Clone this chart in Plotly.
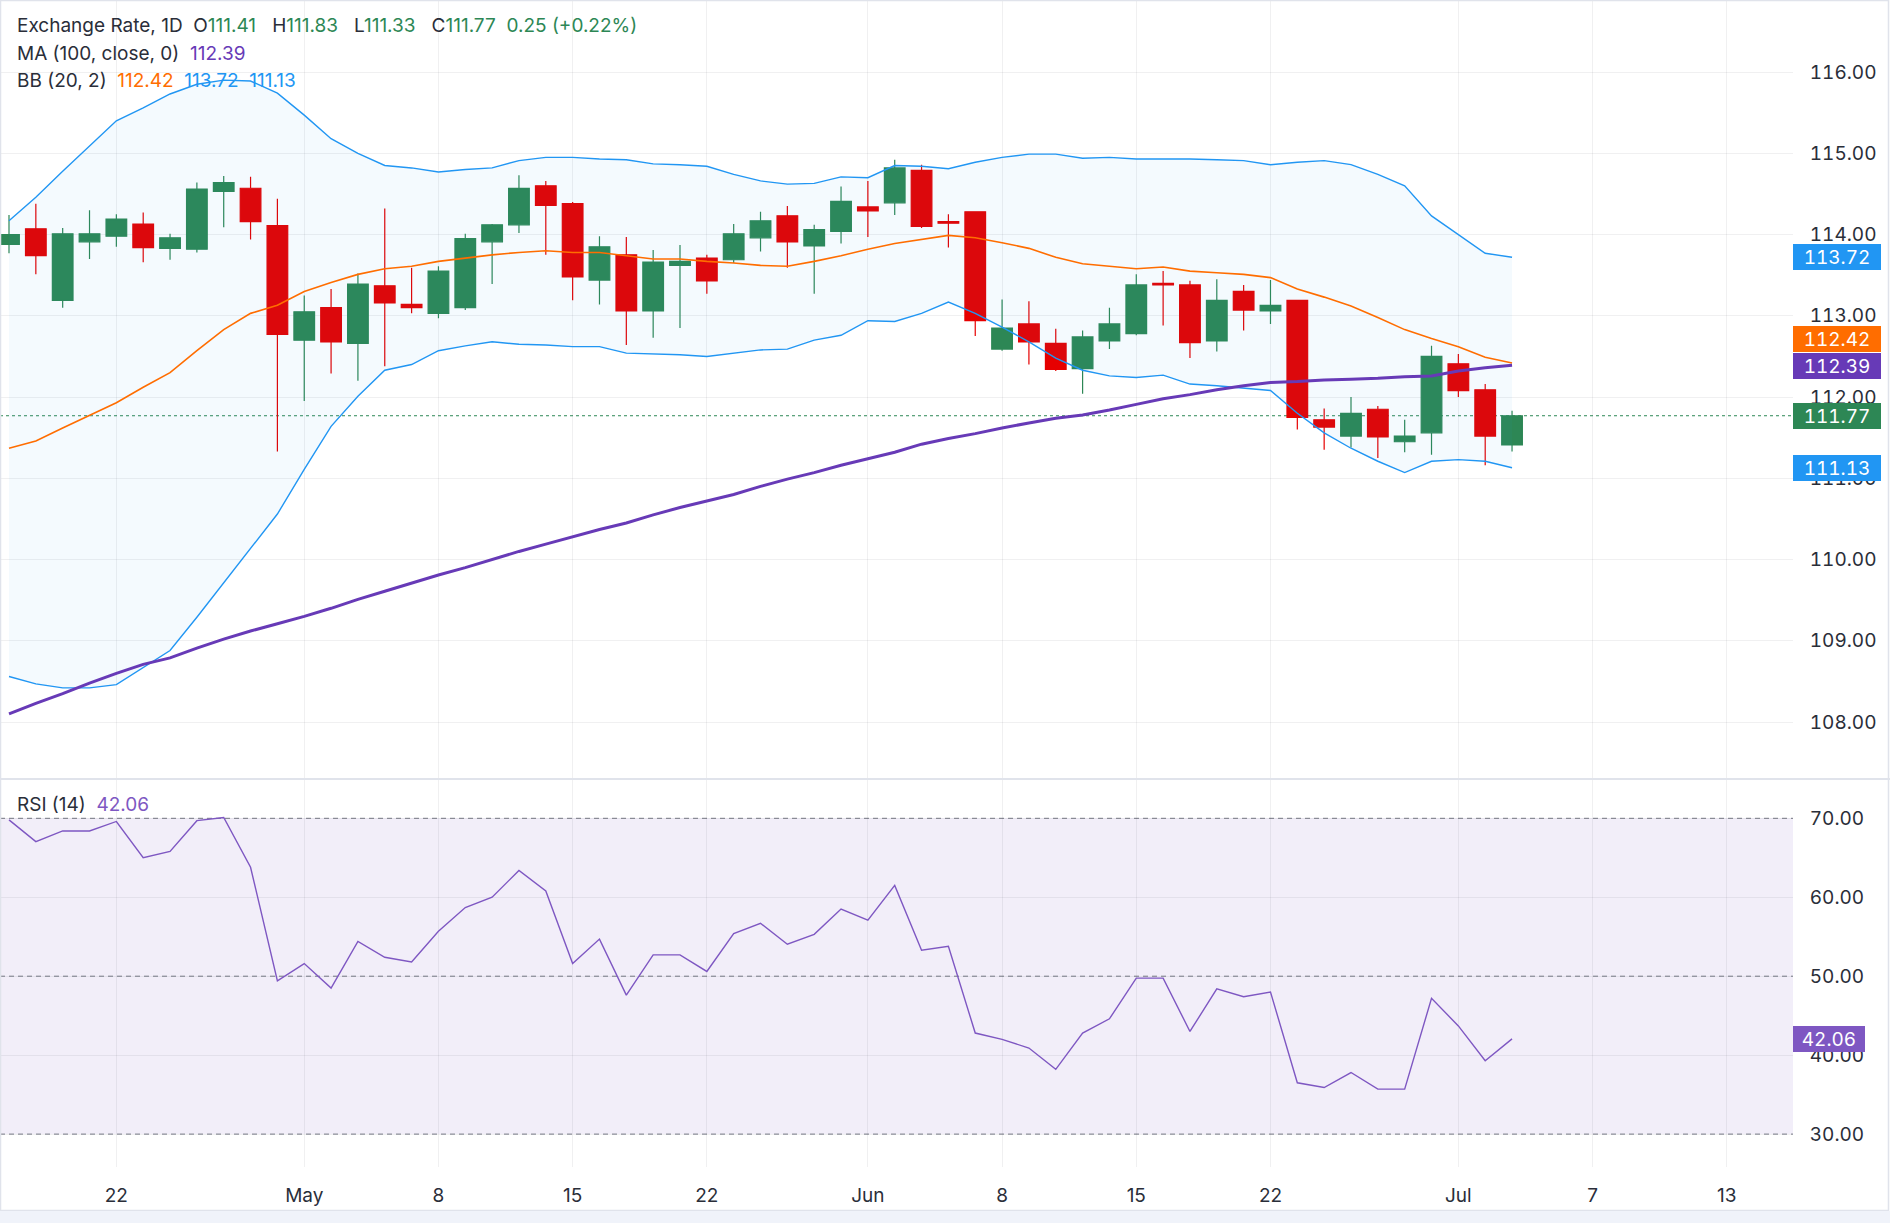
import plotly.graph_objects as go

W, H = 1890, 1223

# ---------------- data ----------------
bar_open = [113.88, 114.07, 113.19, 113.91, 113.98, 114.13, 113.83, 113.82, 114.53, 114.57,
            114.11, 112.70, 113.10, 112.66, 113.37, 113.14, 113.03, 113.10, 113.91, 114.12,
            114.60, 114.38, 113.44, 113.75, 113.06, 113.62, 113.71, 113.69, 113.96, 114.23,
            113.86, 114.04, 114.34, 114.39, 114.79, 114.16, 114.28, 112.59, 112.90, 112.66,
            112.35, 112.69, 112.78, 113.40, 113.38, 112.69, 113.30, 113.06, 113.19, 111.72,
            111.52, 111.85, 111.45, 111.56, 112.41, 112.09, 111.41]
bar_high = [114.24, 114.38, 114.08, 114.30, 114.25, 114.27, 114.01, 114.64, 114.72, 114.71,
            114.44, 113.25, 113.33, 113.52, 114.32, 113.59, 113.61, 114.01, 114.13, 114.73,
            114.66, 114.40, 113.98, 113.97, 113.81, 113.87, 113.75, 114.13, 114.28, 114.35,
            114.12, 114.59, 114.66, 114.92, 114.86, 114.25, 114.28, 113.20, 113.18, 112.84,
            112.82, 113.10, 113.51, 113.55, 113.43, 113.45, 113.38, 113.44, 113.19, 111.86,
            112.00, 111.89, 111.72, 112.63, 112.53, 112.16, 111.83]
bar_low = [113.77, 113.51, 113.10, 113.70, 113.85, 113.66, 113.69, 113.78, 114.09, 113.94,
           111.33, 111.95, 112.29, 112.20, 112.38, 113.03, 112.97, 113.07, 113.39, 114.02,
           113.75, 113.19, 113.14, 112.64, 112.73, 112.85, 113.27, 113.65, 113.79, 113.59,
           113.27, 113.89, 113.97, 114.24, 114.08, 113.84, 112.75, 112.57, 112.40, 112.32,
           112.04, 112.59, 112.76, 112.88, 112.48, 112.56, 112.82, 112.90, 111.60, 111.35,
           111.38, 111.25, 111.32, 111.29, 112.00, 111.16, 111.33]
bar_close = [114.00, 113.74, 114.01, 114.01, 114.19, 113.84, 113.96, 114.56, 114.64, 114.16,
             112.77, 113.05, 112.68, 113.39, 113.16, 113.10, 113.55, 113.95, 114.12, 114.57,
             114.36, 113.48, 113.85, 113.06, 113.66, 113.67, 113.43, 114.01, 114.17, 113.91,
             114.06, 114.41, 114.29, 114.82, 114.10, 114.14, 112.94, 112.85, 112.68, 112.34,
             112.74, 112.90, 113.38, 113.38, 112.67, 113.19, 113.07, 113.13, 111.75, 111.63,
             111.80, 111.51, 111.52, 112.50, 112.08, 111.52, 111.77]

bb_upper = [114.17, 114.46, 114.78, 115.09, 115.40, 115.56, 115.73, 115.85, 115.90, 115.89,
            115.74, 115.47, 115.18, 115.00, 114.85, 114.82, 114.77, 114.80, 114.82, 114.91,
            114.95, 114.95, 114.93, 114.92, 114.87, 114.86, 114.84, 114.74, 114.66, 114.62,
            114.63, 114.71, 114.70, 114.85, 114.84, 114.81, 114.89, 114.95, 114.99, 114.99,
            114.94, 114.95, 114.93, 114.93, 114.93, 114.92, 114.91, 114.86, 114.89, 114.91,
            114.86, 114.74, 114.60, 114.23, 114.00, 113.77, 113.72]
bb_basis = [111.37, 111.46, 111.62, 111.78, 111.93, 112.12, 112.30, 112.57, 112.83, 113.03,
            113.13, 113.30, 113.41, 113.51, 113.58, 113.61, 113.67, 113.71, 113.75, 113.78,
            113.80, 113.78, 113.78, 113.74, 113.70, 113.70, 113.67, 113.65, 113.62, 113.61,
            113.67, 113.74, 113.82, 113.89, 113.94, 113.99, 113.96, 113.90, 113.83, 113.72,
            113.64, 113.61, 113.58, 113.60, 113.55, 113.53, 113.51, 113.47, 113.33, 113.23,
            113.12, 112.98, 112.83, 112.72, 112.62, 112.49, 112.42]
bb_lower = [108.56, 108.47, 108.42, 108.42, 108.46, 108.67, 108.88, 109.29, 109.71, 110.14,
            110.56, 111.11, 111.64, 112.01, 112.33, 112.40, 112.57, 112.63, 112.68, 112.65,
            112.64, 112.62, 112.62, 112.54, 112.53, 112.52, 112.50, 112.54, 112.58, 112.59,
            112.70, 112.76, 112.94, 112.93, 113.03, 113.17, 113.03, 112.86, 112.68, 112.48,
            112.33, 112.26, 112.24, 112.27, 112.16, 112.14, 112.11, 112.08, 111.80, 111.56,
            111.37, 111.21, 111.07, 111.21, 111.23, 111.21, 111.13]
ma_100 = [108.10, 108.23, 108.35, 108.48, 108.60, 108.71, 108.79, 108.91, 109.02, 109.12,
          109.21, 109.30, 109.40, 109.51, 109.61, 109.71, 109.81, 109.90, 110.00, 110.10,
          110.19, 110.28, 110.37, 110.45, 110.55, 110.64, 110.72, 110.80, 110.90, 110.99,
          111.07, 111.16, 111.24, 111.32, 111.42, 111.49, 111.55, 111.62, 111.68, 111.74,
          111.78, 111.84, 111.91, 111.98, 112.03, 112.09, 112.14, 112.18, 112.19, 112.21,
          112.22, 112.23, 112.25, 112.26, 112.32, 112.36, 112.39]
rsi_14 = [69.8, 67.05, 68.4, 68.4, 69.6, 65.0, 65.8, 69.7, 70.1, 63.8,
          49.4, 51.6, 48.5, 54.4, 52.4, 51.8, 55.7, 58.7, 60.0, 63.4,
          60.8, 51.6, 54.7, 47.6, 52.7, 52.7, 50.6, 55.4, 56.7, 54.05,
          55.3, 58.5, 57.1, 61.5, 53.3, 53.8, 42.8, 42.0, 40.9, 38.2,
          42.8, 44.6, 49.75, 49.75, 43.0, 48.4, 47.4, 48.0, 36.5, 35.9,
          37.8, 35.7, 35.7, 47.2, 43.7, 39.3, 42.06]

tick_pos = [4, 11, 16, 21, 26, 32, 37, 42, 47, 54, 59, 64]
tick_text = ["22", "May", "8", "15", "22", "Jun", "8", "15", "22", "Jul", "7", "13"]
price_ticks = [108, 109, 110, 111, 112, 113, 114, 115, 116]
rsi_ticks = [30, 40, 50, 60, 70]
rsi_levels = [70, 50, 30]
label_shift = [0, 24, -1, 0, 0]   # pixel nudges of the overlapping price tags

# ---------------- styling ----------------
GREEN = "#2d8755"
RED = "#e60000"
BLUE = "#2196f3"
ORANGE = "#ff6d00"
PURPLE = "#673ab7"
RSI_C = "#7e57c2"
TEXT = "#2a2e39"
GRID = "rgba(42,46,57,0.07)"
FONT = "Inter, Roboto, sans-serif"
FS = 19

x = list(range(len(bar_close)))

plot_right = 1793
bar0_px, bar_px = 9.0, 26.84
x_range = [(0 - bar0_px) / bar_px, (plot_right - bar0_px) / bar_px]

# price panel pixels
p_top_px, p_bot_px = 0, 778
px_per_price = 81.25
y115_px = 153.3
p_range = [115 - (p_bot_px - y115_px) / px_per_price, 115 + (y115_px - p_top_px) / px_per_price]
# rsi panel pixels
r_top_px, r_bot_px = 780, 1167
px_per_rsi = 7.895
y70_px = 818.3
r_range = [70 - (r_bot_px - y70_px) / px_per_rsi, 70 + (y70_px - r_top_px) / px_per_rsi]

fig = go.Figure()

fig.add_trace(go.Scatter(x=x, y=bb_upper, mode="lines", line=dict(color=BLUE, width=1.4),
                         hoverinfo="skip", xaxis="x", yaxis="y"))
fig.add_trace(go.Scatter(x=x, y=bb_lower, mode="lines", line=dict(color=BLUE, width=1.4),
                         fill="tonexty", fillcolor="rgba(33,150,243,0.05)",
                         hoverinfo="skip", xaxis="x", yaxis="y"))
fig.add_trace(go.Scatter(x=x, y=bb_basis, mode="lines", line=dict(color=ORANGE, width=1.6),
                         hoverinfo="skip", xaxis="x", yaxis="y"))
fig.add_trace(go.Scatter(x=x, y=ma_100, mode="lines", line=dict(color=PURPLE, width=3),
                         hoverinfo="skip", xaxis="x", yaxis="y"))
fig.add_trace(go.Candlestick(
    x=x, open=bar_open, high=bar_high, low=bar_low, close=bar_close,
    increasing=dict(line=dict(color=GREEN, width=1.2), fillcolor=GREEN),
    decreasing=dict(line=dict(color=RED, width=1.2), fillcolor=RED),
    whiskerwidth=0, xaxis="x", yaxis="y", hoverinfo="skip"))
fig.add_trace(go.Scatter(x=x, y=rsi_14, mode="lines", line=dict(color=RSI_C, width=1.4),
                         hoverinfo="skip", xaxis="x2", yaxis="y2"))

common_x = dict(domain=[0, plot_right / W], range=x_range, tickmode="array", tickvals=tick_pos,
                showgrid=True, gridcolor=GRID, gridwidth=1, zeroline=False, showline=False,
                fixedrange=True)
fig.update_layout(
    width=W, height=H, margin=dict(l=0, r=0, t=0, b=0),
    paper_bgcolor="white", plot_bgcolor="white", showlegend=False, hovermode=False,
    boxgap=0.23, boxgroupgap=0,
    font=dict(family=FONT, size=FS, color=TEXT),
    xaxis=dict(**common_x, anchor="y", showticklabels=False, rangeslider=dict(visible=False)),
    xaxis2=dict(**common_x, anchor="y2", ticktext=tick_text, showticklabels=True,
                ticks="outside", ticklen=11, tickcolor="rgba(0,0,0,0)",
                tickfont=dict(family=FONT, size=FS, color=TEXT)),
    yaxis=dict(domain=[1 - p_bot_px / H, 1 - p_top_px / H], range=p_range, side="right",
               anchor="x", tickmode="array", tickvals=price_ticks, tickformat=".2f",
               ticks="outside", ticklen=12, tickcolor="rgba(0,0,0,0)",
               showgrid=True, gridcolor=GRID, zeroline=False, showline=False, fixedrange=True,
               tickfont=dict(family=FONT, size=FS, color=TEXT)),
    yaxis2=dict(domain=[1 - r_bot_px / H, 1 - r_top_px / H], range=r_range, side="right",
                anchor="x2", tickmode="array", tickvals=rsi_ticks, tickformat=".2f",
                ticks="outside", ticklen=12, tickcolor="rgba(0,0,0,0)",
                showgrid=True, gridcolor=GRID, zeroline=False, showline=False, fixedrange=True,
                tickfont=dict(family=FONT, size=FS, color=TEXT)),
)

shapes = []
# RSI background band
shapes.append(dict(type="rect", xref="x2 domain", yref="y2", x0=0, x1=1, y0=min(rsi_levels),
                   y1=max(rsi_levels), fillcolor="rgba(126,87,194,0.1)", line=dict(width=0),
                   layer="below"))
for lv in rsi_levels:
    shapes.append(dict(type="line", xref="x2 domain", yref="y2", x0=0, x1=1, y0=lv, y1=lv,
                       line=dict(color="#787b86", width=1, dash="5px,4px"), layer="below"))
# last price line
shapes.append(dict(type="line", xref="x domain", yref="y", x0=0, x1=1,
                   y0=bar_close[-1], y1=bar_close[-1],
                   line=dict(color=GREEN, width=1, dash="dot"), layer="below"))
# pane divider
shapes.append(dict(type="line", xref="paper", yref="paper", x0=0, x1=1,
                   y0=1 - 779 / H, y1=1 - 779 / H, line=dict(color="#e0e3eb", width=2)))
# outer frame + bottom strip
shapes.append(dict(type="rect", xref="paper", yref="paper", x0=0.5 / W, x1=1 - 1.5 / W,
                   y0=1 - 1210.5 / H, y1=1 - 0.5 / H, line=dict(color="#e0e3eb", width=1.5),
                   fillcolor="rgba(0,0,0,0)"))
shapes.append(dict(type="rect", xref="paper", yref="paper", x0=0, x1=1, y0=0,
                   y1=1 - 1211 / H, line=dict(width=0), fillcolor="#f0f3fa"))
fig.update_layout(shapes=shapes)

ann = []
def hdr(text, ypx):
    ann.append(dict(xref="paper", yref="paper", x=14.5 / W, y=1 - ypx / H, xanchor="left",
                    yanchor="middle", align="left", text=text, showarrow=False,
                    font=dict(family=FONT, size=FS, color=TEXT)))

def col(v, c):
    return f'<span style="color:{c}">{v}</span>'

chg = bar_close[-1] - bar_close[-2]
pct = chg / bar_close[-2] * 100
sp = "\u00a0\u00a0"
sp3 = "\u00a0\u00a0\u00a0"
line1 = ("Exchange Rate, 1D" + sp + "O" + col(f"{bar_open[-1]:.2f}", GREEN) + sp3 + "H" +
         col(f"{bar_high[-1]:.2f}", GREEN) + sp3 + "L" + col(f"{bar_low[-1]:.2f}", GREEN) + sp3 +
         "C" + col(f"{bar_close[-1]:.2f}", GREEN) + sp +
         col(f"{chg:.2f} ({pct:+.2f}%)", GREEN))
hdr(line1, 25)
hdr("MA (100, close, 0)" + sp + col(f"{ma_100[-1]:.2f}", PURPLE), 53)
hdr("BB (20, 2)" + sp + col(f"{bb_basis[-1]:.2f}", ORANGE) + sp +
    col(f"{bb_upper[-1]:.2f}", BLUE) + sp + col(f"{bb_lower[-1]:.2f}", BLUE), 80)
hdr("RSI (14)" + sp + col(f"{rsi_14[-1]:.2f}", RSI_C), 804)
n_header = len(ann)

# price tags on the right scale
tag_vals = [bb_upper[-1], bb_basis[-1], ma_100[-1], bar_close[-1], bb_lower[-1]]
tag_cols = [BLUE, ORANGE, PURPLE, GREEN, BLUE]
for v, c, s in zip(tag_vals, tag_cols, label_shift):
    ann.append(dict(xref="paper", yref="y", x=plot_right / W, y=v, xanchor="left",
                    yanchor="middle", yshift=s, text=f"{v:.2f}", showarrow=False,
                    bgcolor=c, bordercolor=c, borderwidth=1, borderpad=2, width=82, height=20,
                    align="center", font=dict(family=FONT, size=FS, color="white")))
ann.append(dict(xref="paper", yref="y2", x=plot_right / W, y=rsi_14[-1], xanchor="left",
                yanchor="middle", text=f"{rsi_14[-1]:.2f}", showarrow=False,
                bgcolor=RSI_C, bordercolor=RSI_C, borderwidth=1, borderpad=2, width=66, height=20,
                align="center", font=dict(family=FONT, size=FS, color="white")))
fig.update_layout(annotations=ann)

# tabular figures on the scales and price tags (as on the reference); header stays proportional
sel = [".xtick text", ".ytick text", ".y2tick text"] + \
      [f'.annotation[data-index=\\"{i}\\"] text' for i in range(n_header, len(ann))]
css = ",".join(sel) + "{font-variant-numeric:tabular-nums;font-feature-settings:\\\"tnum\\\" 1;}"
post = ("var s=document.createElement('style');"
        "s.textContent=\"" + css + "\";"
        "document.head.appendChild(s);")
fig.write_html("out.html", post_script=post)
